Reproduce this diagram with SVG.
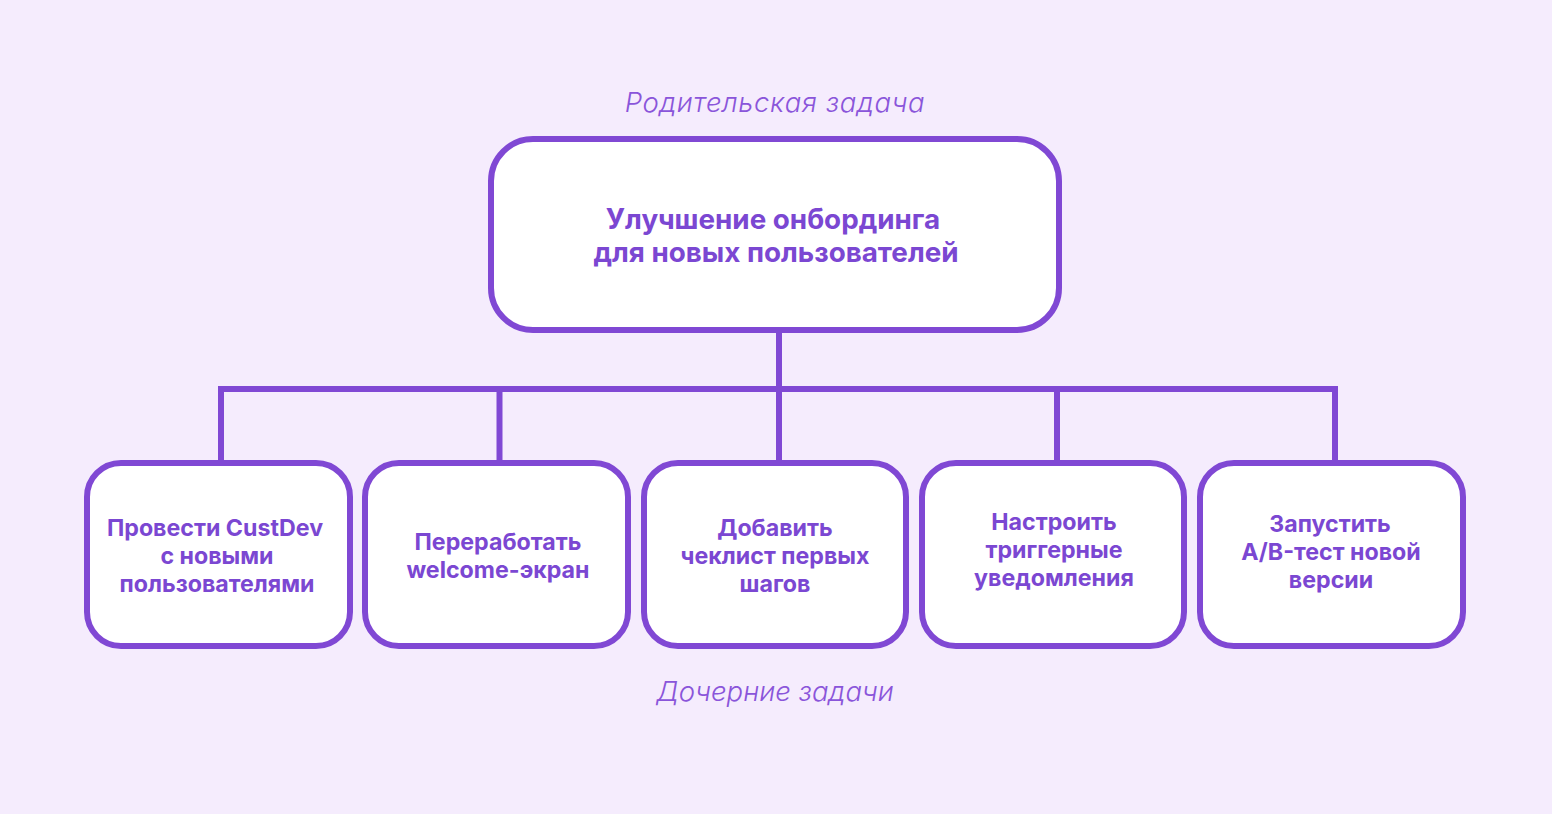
<svg xmlns="http://www.w3.org/2000/svg" width="1552" height="814" viewBox="0 0 1552 814">
<style>
.box{fill:#FFFFFF;stroke:#8048D4;stroke-width:6}
.conn{fill:none;stroke:#8048D4;stroke-width:6;stroke-linejoin:miter}
.t{font-family:Inter,"Noto Sans","DejaVu Sans",sans-serif;font-weight:700;fill:#7B47D2;text-anchor:middle}
.main{font-size:27.8px}
.sub{font-size:23.2px}
.lbl{font-family:Inter,"Noto Sans","DejaVu Sans",sans-serif;font-weight:300;font-style:italic;font-size:27.5px;fill:#8A55DA;text-anchor:middle}
</style>
<rect width="1552" height="814" fill="#F5ECFD"/>
<text class="lbl" x="775" y="112" letter-spacing="0.6">Родительская задача</text>
<text class="lbl" x="775" y="701">Дочерние задачи</text>
<g id="connectors">
<path class="conn" d="M779 330 V462"/>
<path class="conn" d="M221 462 V389 H1335 V462"/>
<path class="conn" d="M499.5 389 V462"/>
<path class="conn" d="M1057 389 V462"/>
</g>
<g id="parent">
<rect class="box" x="491" y="139" width="568" height="191" rx="42"/>
<text class="t main" x="773" y="229">Улучшение онбординга</text>
<text class="t main" x="776" y="262">для новых пользователей</text>
</g>
<g id="child1">
<rect class="box" x="87" y="463" width="263" height="183" rx="34"/>
<text class="t sub" x="215" y="536">Провести CustDev</text>
<text class="t sub" x="217" y="564">с новыми</text>
<text class="t sub" x="217" y="592">пользователями</text>
</g>
<g id="child2">
<rect class="box" x="365" y="463" width="263" height="183" rx="34"/>
<text class="t sub" x="498" y="550">Переработать</text>
<text class="t sub" x="498" y="578">welcome-экран</text>
</g>
<g id="child3">
<rect class="box" x="644" y="463" width="262" height="183" rx="34"/>
<text class="t sub" x="775" y="536">Добавить</text>
<text class="t sub" x="775" y="564">чеклист первых</text>
<text class="t sub" x="775" y="592">шагов</text>
</g>
<g id="child4">
<rect class="box" x="922" y="463" width="262" height="183" rx="34"/>
<text class="t sub" x="1054" y="530">Настроить</text>
<text class="t sub" x="1054" y="558">триггерные</text>
<text class="t sub" x="1054" y="586">уведомления</text>
</g>
<g id="child5">
<rect class="box" x="1200" y="463" width="263" height="183" rx="34"/>
<text class="t sub" x="1330" y="532">Запустить</text>
<text class="t sub" x="1331" y="560">A/B-тест новой</text>
<text class="t sub" x="1331" y="588">версии</text>
</g>
</svg>
